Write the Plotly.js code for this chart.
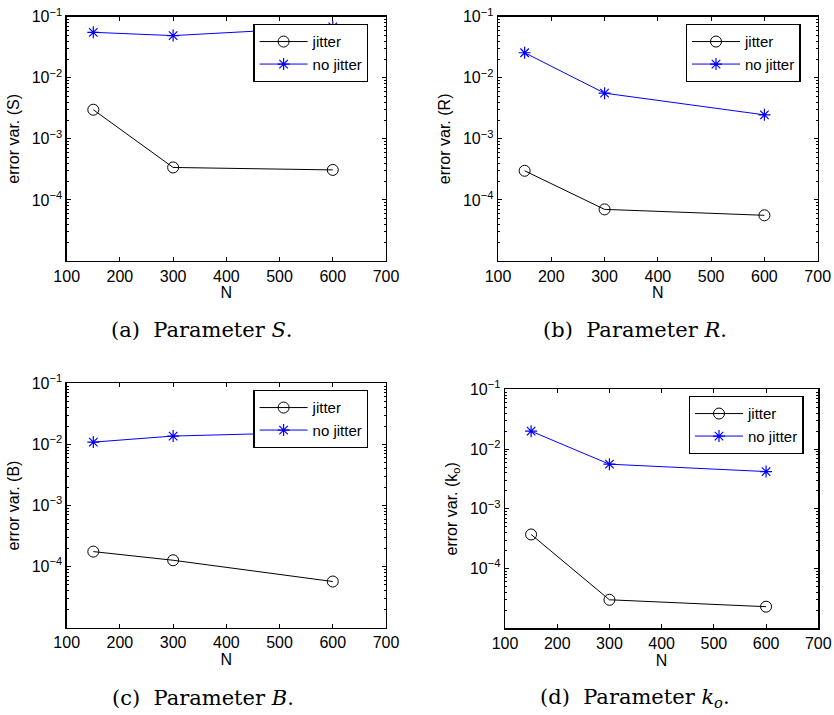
<!DOCTYPE html>
<html>
<head>
<meta charset="utf-8">
<script src="https://cdn.plot.ly/plotly-3.0.1.min.js"></script>
<style>html,body{margin:0;padding:0;background:#fff;}#chart{width:834px;height:715px;}</style>
</head>
<body>
<div id="chart"></div>
<script>
// Data
const N = [150, 300, 600];
const jitterS = [0.0030, 0.00034, 0.00031];
const noJitterS = [0.0555, 0.049, 0.068];
const jitterR = [0.00030, 0.000070, 0.000056];
const noJitterR = [0.0257, 0.0056, 0.00247];
const jitterB = [0.000176, 0.000127, 0.000057];
const noJitterB = [0.0109, 0.0137, 0.016];
const jitterK = [0.000372, 0.000030, 0.000023];
const noJitterK = [0.0199, 0.00558, 0.0042];

const yTitles = ['error var. (S)', 'error var. (R)', 'error var. (B)', 'error var. (k<sub>o</sub>)'];
const captions = ['(a)  Parameter <i>S</i>.', '(b)  Parameter <i>R</i>.', '(c)  Parameter <i>B</i>.', '(d)  Parameter <i>k<sub>o</sub></i>.'];
const xTicks = [100, 200, 300, 400, 500, 600, 700];
const yTickVals = [1e-4, 1e-3, 1e-2, 1e-1];
const yTickText = ['10<sup>\u22124</sup>', '10<sup>\u22123</sup>', '10<sup>\u22122</sup>', '10<sup>\u22121</sup>'];

const W = 834, H = 715;
// pixel boxes [left, right, top, bottom]
const boxes = [
  [66.7, 386, 16.7, 261],
  [498, 817.7, 16.7, 261],
  [66.7, 386, 383.3, 627.7],
  [505, 818.3, 389.3, 628.3]
];
const legendPos = [[253.3, 24], [685.7, 24], [253.3, 390], [688.7, 396]];
const captionPos = [[202, 330], [635, 330], [203, 698], [635, 698]];

const series = [[jitterS, noJitterS], [jitterR, noJitterR], [jitterB, noJitterB], [jitterK, noJitterK]];
const font = 'Liberation Sans, Arial, sans-serif';

const data = [];
const layout = {
  width: W, height: H,
  margin: {l: 0, r: 0, t: 0, b: 0},
  paper_bgcolor: '#fff', plot_bgcolor: '#fff',
  font: {family: font, size: 16, color: '#000'},
  annotations: []
};

for (let i = 0; i < 4; i++) {
  const k = i === 0 ? '' : String(i + 1);
  const b = boxes[i];
  const lg = i === 0 ? 'legend' : 'legend' + (i + 1);
  data.push({
    x: N, y: series[i][0], xaxis: 'x' + k, yaxis: 'y' + k,
    mode: 'lines+markers', name: 'jitter', legend: lg,
    line: {color: '#000', width: 1},
    marker: {symbol: 'circle-open', size: 11, color: '#000', line: {width: 1}}
  });
  data.push({
    x: N, y: series[i][1], xaxis: 'x' + k, yaxis: 'y' + k,
    mode: 'lines+markers', name: 'no jitter', legend: lg,
    line: {color: '#0000ff', width: 1},
    marker: {symbol: 'asterisk-open', size: 10, color: '#0000ff', line: {width: 1.2, color: '#0000ff'}}
  });
  layout['xaxis' + k] = {
    domain: [b[0] / W, b[1] / W], anchor: 'y' + k,
    range: [100, 700], tickvals: xTicks, ticktext: xTicks.map(String),
    ticks: 'inside', ticklen: 4, tickcolor: '#000', tickwidth: 1,
    showline: true, linecolor: '#000', linewidth: 1.3, mirror: 'ticks',
    showgrid: false, zeroline: false,
    tickfont: {family: font, size: 16, color: '#000'},
    title: {text: 'N', font: {family: font, size: 16, color: '#000'}, standoff: 2}
  };
  layout['yaxis' + k] = {
    domain: [1 - b[3] / H, 1 - b[2] / H], anchor: 'x' + k,
    type: 'log', range: [-5, -1],
    tickvals: yTickVals, ticktext: yTickText,
    ticks: 'inside', ticklen: 4, tickcolor: '#000', tickwidth: 1,
    minor: {ticks: 'inside', ticklen: 2, tickcolor: '#000', tickmode: 'linear', dtick: 'D1', showgrid: false},
    showline: true, linecolor: '#000', linewidth: 1.3, mirror: 'ticks',
    showgrid: false, zeroline: false,
    tickfont: {family: font, size: 16, color: '#000'},
    title: {text: yTitles[i], font: {family: font, size: 16, color: '#000'}, standoff: 8}
  };
  layout[lg] = {
    x: legendPos[i][0] / W, y: 1 - legendPos[i][1] / H, xanchor: 'left', yanchor: 'top',
    bgcolor: '#fff', bordercolor: '#000', borderwidth: 1.3,
    font: {family: font, size: 15, color: '#000'},
    itemwidth: 48, tracegroupgap: 0
  };
  layout.annotations.push({
    text: captions[i], xref: 'paper', yref: 'paper',
    x: captionPos[i][0] / W, y: 1 - captionPos[i][1] / H,
    xanchor: 'center', yanchor: 'middle', showarrow: false,
    font: {family: 'DejaVu Serif, serif', size: 21, color: '#000'}
  });
}

Plotly.newPlot('chart', data, layout, {displayModeBar: false, staticPlot: true});
</script>
</body>
</html>
